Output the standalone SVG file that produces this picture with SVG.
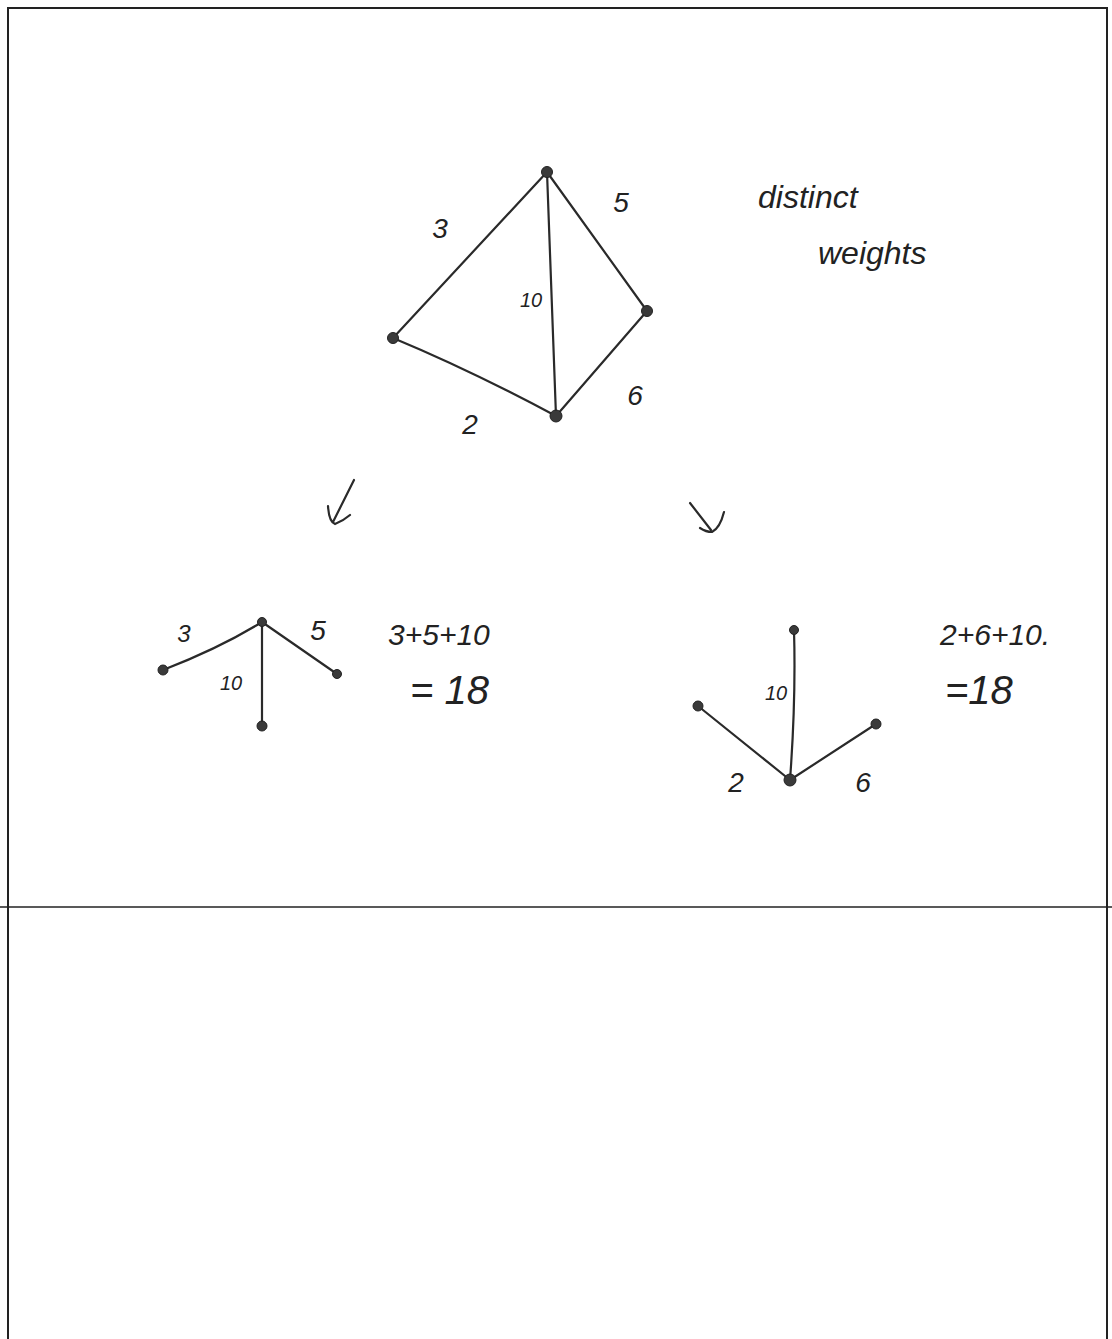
<svg xmlns="http://www.w3.org/2000/svg" width="1112" height="1339" viewBox="0 0 1112 1339">
<style>
.frame{stroke:#222;stroke-width:2;fill:none}
.edge{stroke:#2a2a2a;stroke-width:2.2;fill:none;stroke-linecap:round}
.node{fill:#3a3a3a;stroke:#222;stroke-width:1}
.lbl{font-family:"Liberation Sans",Arial,sans-serif;font-style:italic;fill:#222;font-size:28px;text-anchor:middle}
.sm{font-size:20px}
.md{font-size:24px}
.note{font-family:"Liberation Sans",Arial,sans-serif;font-style:italic;fill:#222;font-size:30px}
.big{font-size:40px}
.word{font-size:32px}
</style>
<rect width="1112" height="1339" fill="#fff"/>
<g id="frame">
<path class="frame" d="M8 1339 V8 H1107 V1339"/>
<line class="frame" x1="0" y1="907" x2="1112" y2="907" style="stroke-width:1.5"/>
</g>
<g id="connectors">
<line class="edge" x1="547" y1="172" x2="393" y2="338"/>
<line class="edge" x1="547" y1="172" x2="647" y2="311"/>
<line class="edge" x1="547" y1="172" x2="556" y2="416"/>
<path class="edge" d="M393 338 Q470 370 556 416"/>
<line class="edge" x1="647" y1="311" x2="556" y2="416"/>
<path class="edge" d="M262 622 Q220 648 163 670"/>
<line class="edge" x1="262" y1="622" x2="337" y2="674"/>
<line class="edge" x1="262" y1="622" x2="262" y2="726"/>
<path class="edge" d="M794 630 Q796 700 790 780"/>
<line class="edge" x1="698" y1="706" x2="790" y2="780"/>
<line class="edge" x1="876" y1="724" x2="790" y2="780"/>
<path class="edge" d="M354 480 L333 522 M328 506 Q329 522 335 524 Q343 521 350 515"/>
<path class="edge" d="M690 503 L711 530 M724 512 Q720 528 712 532 Q706 532 700 528"/>
</g>
<g id="n1"><circle class="node" cx="547" cy="172" r="5.5"/></g>
<g id="n2"><circle class="node" cx="393" cy="338" r="5.5"/></g>
<g id="n3"><circle class="node" cx="647" cy="311" r="5.5"/></g>
<g id="n4"><circle class="node" cx="556" cy="416" r="6"/></g>
<g id="t1c"><circle class="node" cx="262" cy="622" r="4.5"/></g>
<g id="t1l"><circle class="node" cx="163" cy="670" r="5"/></g>
<g id="t1r"><circle class="node" cx="337" cy="674" r="4.5"/></g>
<g id="t1b"><circle class="node" cx="262" cy="726" r="5"/></g>
<g id="t2t"><circle class="node" cx="794" cy="630" r="4.5"/></g>
<g id="t2l"><circle class="node" cx="698" cy="706" r="5"/></g>
<g id="t2r"><circle class="node" cx="876" cy="724" r="5"/></g>
<g id="t2c"><circle class="node" cx="790" cy="780" r="6"/></g>
<g id="labels">
<text class="lbl" x="440" y="238">3</text>
<text class="lbl" x="621" y="212">5</text>
<text class="lbl sm" x="531" y="307">10</text>
<text class="lbl" x="635" y="405">6</text>
<text class="lbl" x="470" y="434">2</text>
<text class="lbl md" x="184" y="642">3</text>
<text class="lbl" x="318" y="640">5</text>
<text class="lbl sm" x="231" y="690">10</text>
<text class="lbl sm" x="776" y="700">10</text>
<text class="lbl" x="736" y="792">2</text>
<text class="lbl" x="863" y="792">6</text>
</g>
<g id="notes">
<text class="note word" x="758" y="208">distinct</text>
<text class="note word" x="818" y="264">weights</text>
<text class="note" x="388" y="645">3+5+10</text>
<text class="note big" x="410" y="704">= 18</text>
<text class="note" x="940" y="645">2+6+10.</text>
<text class="note big" x="945" y="704">=18</text>
</g>
</svg>
